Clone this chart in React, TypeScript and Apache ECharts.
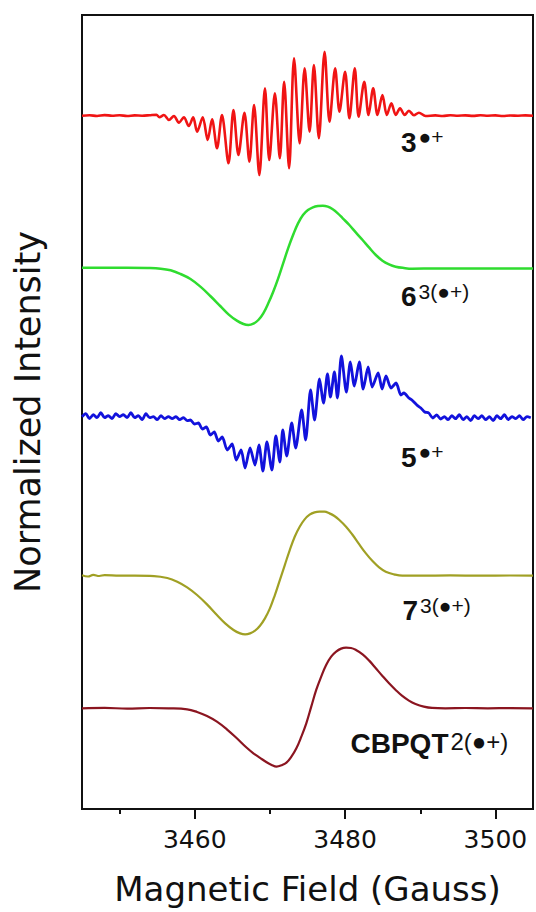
import React, { useEffect, useRef } from "react";
import * as echarts from "echarts";

// ---- axis ticks (Gauss) ----
const majorTicks = [3460, 3480, 3500];
const minorTicks = [3450, 3470, 3490];

// ---- vertical offsets of the stacked spectra ----
const traceOffsets = [693.3, 541, 392.3, 233.3, 100.7];

// ---- 3•+ (red) ----
const redField = [
  3445, 3446, 3447, 3448, 3449, 3450, 3451, 3452, 3453, 3454, 3454.9, 3455.3,
  3455.9, 3456.57, 3457.23, 3457.89, 3458.55, 3459.21, 3459.79, 3460.32, 3461.06, 3461.72,
  3462.3, 3462.96, 3463.62, 3464.49, 3465.15, 3465.81, 3466.61, 3467.27, 3467.89, 3468.59,
  3469.34, 3469.91, 3470.66, 3471.32, 3471.89, 3472.55, 3473.21, 3473.96, 3474.62, 3475.28,
  3475.85, 3476.51, 3477.27, 3477.93, 3478.68, 3479.25, 3480.0, 3480.57, 3481.29, 3481.8,
  3482.55, 3483.12, 3483.74, 3484.31, 3484.97, 3485.55, 3486.16, 3486.74, 3487.31, 3487.93,
  3488.49, 3489.16, 3489.82, 3490.7,
  3492, 3493, 3494, 3495, 3496, 3497, 3498, 3499, 3500, 3501, 3502, 3503, 3504, 3505,
];
const redIntensity = [
  0, 0.5, -0.3, 0.6, 0, 0.4, -0.3, 0.3, 0, 0.5, 1, -1.5,
  0.7, -4.3, -0.3, -7, -1.6, -10.3, -1.6, -16, -1.6, -24.3,
  -3.6, -32.6, 0.7, -47.6, 5.7, -39.3, 3, -46, 10.7, -59.3,
  27.4, -44.3, 22.4, -42.6, 34, -52.6, 57.4, -27.6, 47.4, -16,
  50.7, -22.6, 64, -6, 47.4, 4, 44, -2.6, 47.4, -1,
  34, 0.7, 27.4, 0.7, 20.7, 0.7, 12.4, 0.7, 7.4, 0.7,
  5, 0.4, 3, -0.3,
  0.3, -0.3, 0.4, 0, 0.3, -0.2, 0.4, 0, 0.3, -0.3, 0.2, 0, 0.3, 0,
];

// ---- 6^3(•+) (green) ----
const greenField = [
  3445, 3448, 3451, 3453.71, 3455.47, 3456.79, 3458.11, 3459.43, 3460.75, 3462.07,
  3463.39, 3464.49, 3465.6, 3466.48, 3467.14, 3467.8, 3468.46, 3469.12, 3469.78, 3470.44,
  3471.1, 3471.76, 3472.42, 3473.08, 3473.74, 3474.4, 3475.06, 3475.72, 3476.38, 3477.04,
  3477.7, 3478.36, 3479.03, 3479.69, 3480.57, 3481.45, 3482.33, 3483.21, 3484.09, 3484.97,
  3485.85, 3486.73, 3487.83, 3488.93, 3492, 3496, 3500, 3505,
];
const greenIntensity = [
  0.3, 0.3, 0.3, 0, -0.67, -2.33, -6, -11, -18.67, -28,
  -38, -46.33, -52.67, -56, -57, -55.67, -52, -45.33, -35.33, -23.67,
  -10.33, 4.67, 19.67, 33, 44.67, 53, 58, 60.67, 62, 62.33,
  61.33, 58.67, 54.67, 49.67, 43, 35.33, 28, 20.33, 13, 7.33,
  3.67, 1.33, 0, -0.67, -0.5, -0.5, -0.5, -0.5,
];

// ---- 5•+ (blue) ----
const blueField = [
  3445, 3445.5, 3446, 3446.5, 3447, 3447.5, 3448, 3448.5, 3449, 3449.5,
  3450, 3450.5, 3451, 3451.5, 3452, 3452.5, 3453, 3453.5, 3454, 3454.5,
  3455, 3455.5, 3456, 3456.5, 3457, 3457.5, 3458, 3458.5, 3459,
  3459.43, 3459.96, 3460.49, 3461.01, 3461.54, 3462.07, 3462.6, 3463.13, 3463.66, 3464.32,
  3464.98, 3465.51, 3466.17, 3466.69, 3467.36, 3468.02, 3468.54, 3469.07, 3469.6, 3470.26,
  3470.79, 3471.32, 3471.71, 3472.24, 3472.9, 3473.43, 3474.22, 3474.75, 3475.41, 3475.94,
  3476.6, 3477.13, 3477.66, 3478.05, 3478.58, 3478.98, 3479.51, 3480.17, 3480.7, 3481.23,
  3481.89, 3482.41, 3483.07, 3483.6, 3484.4, 3484.92, 3485.45, 3486.11, 3486.78, 3487.43,
  3487.83, 3488.49, 3488.89, 3489.55, 3490.08, 3490.6, 3491.13, 3491.66, 3492.19, 3492.72,
  3493.2, 3493.7, 3494.2, 3494.7, 3495.2, 3495.7, 3496.2, 3496.7, 3497.2, 3497.7,
  3498.2, 3498.7, 3499.2, 3499.7, 3500.2, 3500.7, 3501.2, 3501.7, 3502.2, 3502.7,
  3503.2, 3503.7, 3504.2, 3504.7,
];
const blueIntensity = [
  0, 3, -2, 2, -1, 4, -1, 1, -2, 3,
  0, 2, -1, 4, -1, 1, -3, 3, -1, 0,
  -3, 1, -2, 0, -2, 0, -3, -1, -4,
  -3.3, -7.3, -6.3, -12.3, -10.3, -18.3, -15.3, -24.3, -20.3, -33.3,
  -27.3, -43.3, -33.3, -51.3, -31.3, -48.3, -28.3, -54.3, -25.3, -53.3,
  -19.3, -45.3, -13.3, -39.3, -6.3, -31.3, 6.7, -23.3, 26.7, -3.3,
  37.7, 13.7, 42.7, 19.7, 44.7, 18.7, 60.7, 24.7, 54.7, 30.7,
  54.7, 27.7, 49.7, 29.7, 43.7, 27.7, 40.7, 28.7, 33.7, 21.7,
  23.7, 18.7, 16.7, 11.7, 8.7, 4.7, 3.7, -1.3, 1.7, -2.3,
  0, -3, 1, -2, 2, -3, 0, -4, 1, -2,
  1, -3, 0, -4, 1, -2, 2, -3, 0, -2,
  1, -3, 0, -1,
];

// ---- 7^3(•+) (olive) ----
const oliveField = [
  3445, 3445.8, 3446.5, 3447.3, 3448, 3450, 3452, 3454.59, 3456.35, 3457.67,
  3458.99, 3460.31, 3461.63, 3462.95, 3464.05, 3465.16, 3466.04, 3466.7, 3467.36, 3468.02,
  3468.68, 3469.34, 3470.0, 3470.66, 3471.32, 3471.98, 3472.64, 3473.3, 3473.96, 3474.62,
  3475.28, 3475.94, 3476.6, 3477.26, 3477.92, 3478.58, 3479.24, 3480.13, 3481.01, 3481.89,
  3482.77, 3483.65, 3484.53, 3485.41, 3486.51, 3487.61, 3490, 3494, 3498, 3502, 3505,
];
const oliveIntensity = [
  0.5, -0.8, 0.8, -0.3, 0.6, 0, 0, -0.33, -2.33, -6,
  -11.67, -19.33, -28.67, -39.33, -47.67, -54.33, -57.67, -58.67, -57.67, -55,
  -50, -42.67, -32.67, -19.33, -4.33, 10.67, 25.67, 39, 49, 56.33,
  61, 63.33, 64, 64, 62.33, 59.67, 55.67, 49, 40.67, 31.33,
  22.33, 14.67, 8.33, 4, 1.33, 0, 0, 0.3, 0, 0.2, 0,
];

// ---- CBPQT^2(•+) (dark red) ----
const darkRedField = [
  3445, 3448, 3451, 3454, 3456.5, 3458.99, 3460.31, 3461.63, 3462.95, 3464.27,
  3465.6, 3466.92, 3467.8, 3468.68, 3469.56, 3470.22, 3470.88, 3471.54, 3472.2, 3472.86,
  3473.52, 3474.18, 3474.84, 3475.5, 3476.16, 3476.82, 3477.48, 3478.15, 3478.81, 3479.47,
  3480.13, 3480.79, 3481.45, 3482.33, 3483.21, 3484.09, 3484.97, 3485.85, 3486.73, 3487.61,
  3488.49, 3489.37, 3490.47, 3491.57, 3493.34, 3496, 3499, 3502, 3505,
];
const darkRedIntensity = [
  0, 0.4, -0.3, 0.3, 0, -1, -3.67, -7.67, -13.33, -21,
  -30, -39.5, -45, -49.5, -54, -56.67, -58.33, -57, -54.33, -48.33,
  -40, -28.33, -15, 1.67, 18.33, 31.67, 43.33, 51.67, 56.67, 59.67,
  60.67, 60.33, 58.33, 54, 47.67, 40, 32.33, 25, 18.33, 12.33,
  7.67, 4.33, 1.67, 0.33, 0, 0.3, 0, 0.2, 0,
];

const labelMain = ["3", "6", "5", "7", "CBPQT"];
const labelSup = ["●+", "3(●+)", "●+", "3(●+)", "2(●+)"];

export default function App() {
  const ref = useRef<HTMLDivElement>(null);

  useEffect(() => {
    if (!ref.current) return;
    const chart = echarts.init(ref.current, null, { renderer: "svg" });

    const mainFont = "Liberation Sans, Arial, sans-serif";
    const axisFont = "DejaVu Sans, sans-serif";
    const mainSize = 28;

    const measure = (t: string, font: string) => {
      const c = document.createElement("canvas");
      const ctx = c.getContext("2d");
      if (!ctx) return t.length * 15.6;
      ctx.font = font;
      return ctx.measureText(t).width;
    };

    // label layout: [left x, main center y, sup center y, sup font size]
    const labelPos = [
      [401, 142, 136, 21],
      [401, 296.5, 291, 21],
      [401, 457, 451, 21],
      [402.5, 610.5, 605, 21],
      [350.5, 743, 741, 24],
    ];

    const graphic: any[] = [];
    labelMain.forEach((m, i) => {
      const [x, y, sy, ss] = labelPos[i];
      const w = measure(m, `bold ${mainSize}px Liberation Sans`);
      graphic.push({
        type: "text",
        x,
        y,
        silent: true,
        style: {
          text: m,
          fontSize: mainSize,
          fontWeight: "bold",
          fontFamily: mainFont,
          fill: "#111",
          align: "left",
          verticalAlign: "middle",
        },
      });
      graphic.push({
        type: "text",
        x: x + w + 2,
        y: sy,
        silent: true,
        style: {
          text: labelSup[i],
          fontSize: ss,
          fontFamily: mainFont,
          fill: "#111",
          align: "left",
          verticalAlign: "middle",
        },
      });
    });

    const mk = (field: number[], inten: number[], k: number) =>
      field.map((f, i) => [f, traceOffsets[k] + inten[i]]);

    const lineSeries = (data: number[][], color: string, width: number, smooth: number) => ({
      type: "line",
      xAxisIndex: 0,
      yAxisIndex: 0,
      data,
      showSymbol: false,
      symbol: "none",
      smooth,
      silent: true,
      lineStyle: { color, width },
    });

    const option: any = {
      animation: false,
      backgroundColor: "#ffffff",
      grid: {
        left: 82,
        right: 3,
        top: 15,
        bottom: 103,
        show: true,
        borderColor: "#111",
        borderWidth: 2,
        backgroundColor: "transparent",
      },
      xAxis: [
        {
          type: "value",
          min: 3445,
          max: 3505,
          position: "bottom",
          axisLine: { show: true, onZero: false, lineStyle: { color: "#111", width: 2 } },
          axisTick: {
            show: true,
            inside: false,
            length: 10,
            customValues: majorTicks,
            lineStyle: { color: "#111", width: 2 },
          },
          axisLabel: {
            show: true,
            customValues: majorTicks,
            formatter: (v: number) => String(v),
            margin: 18,
            fontSize: 25,
            fontFamily: axisFont,
            color: "#111",
          },
          splitLine: { show: false },
          name: "Magnetic Field (Gauss)",
          nameLocation: "middle",
          nameGap: 63,
          nameTextStyle: { fontSize: 34, fontFamily: axisFont, color: "#111" },
        },
        {
          type: "value",
          min: 3445,
          max: 3505,
          position: "bottom",
          axisLine: { show: false, onZero: false },
          axisTick: {
            show: true,
            inside: false,
            length: 5,
            customValues: minorTicks,
            lineStyle: { color: "#111", width: 2 },
          },
          axisLabel: { show: false },
          splitLine: { show: false },
        },
      ],
      yAxis: {
        type: "value",
        min: 0,
        max: 794,
        axisLine: { show: true, lineStyle: { color: "#111", width: 2 } },
        axisTick: { show: false },
        axisLabel: { show: false },
        splitLine: { show: false },
        name: "Normalized Intensity",
        nameLocation: "middle",
        nameGap: 37,
        nameTextStyle: { fontSize: 35, fontFamily: axisFont, color: "#111" },
      },
      graphic,
      series: [
        lineSeries(mk(redField, redIntensity, 0), "#f01414", 2.6, 0.3),
        lineSeries(mk(greenField, greenIntensity, 1), "#2fdc2f", 2.5, 0.4),
        lineSeries(mk(blueField, blueIntensity, 2), "#1212dc", 2.8, 0.25),
        lineSeries(mk(oliveField, oliveIntensity, 3), "#a0a024", 2.2, 0.4),
        lineSeries(mk(darkRedField, darkRedIntensity, 4), "#8b1520", 2.2, 0.4),
      ],
    };

    chart.setOption(option);
    return () => chart.dispose();
  }, []);

  return (
    <div
      ref={ref}
      style={{ position: "fixed", left: 0, top: 0, width: 536, height: 912, background: "#fff" }}
    />
  );
}
